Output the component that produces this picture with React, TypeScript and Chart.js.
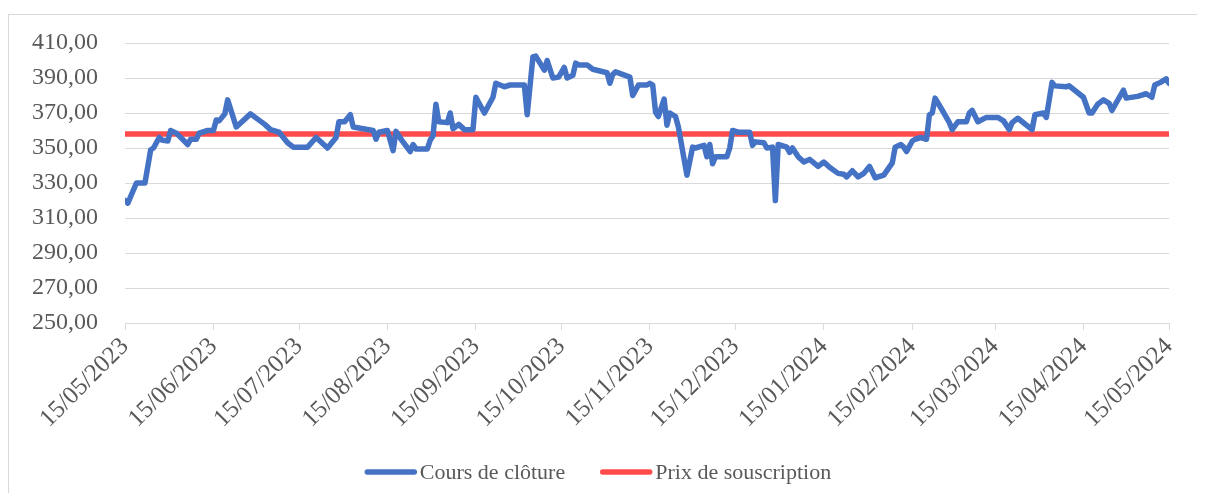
import React, { useEffect, useRef } from "react";
import { Chart, registerables } from "chart.js";

Chart.register(...registerables);

// Day offsets counted from 15/05/2023 (trading days)
const dayOffsets = [
  0, 1, 4, 7, 9, 10, 12, 13, 15, 16, 18, 22, 23, 25, 26, 29, 31, 32, 33, 35,
  36, 39, 44, 49, 51, 54, 57, 59, 64, 67, 69, 71, 74, 75, 77, 79, 80, 87, 88, 89,
  92, 94, 95, 97, 100, 101, 102, 106, 107, 108, 109, 110, 113, 114, 115, 117, 119, 122, 123, 126,
  129, 130, 133, 135, 140, 141, 143, 144, 147, 148, 150, 152, 154, 155, 157, 158, 159, 162, 164, 169,
  170, 171, 172, 177, 178, 180, 183, 184, 185, 186, 187, 189, 190, 191, 193, 194, 197, 199, 200, 203,
  204, 205, 206, 207, 211, 212, 213, 215, 219, 220, 221, 224, 225, 227, 228, 229, 232, 233, 234, 236,
  238, 240, 243, 245, 247, 250, 252, 253, 255, 257, 259, 261, 263, 266, 269, 270, 272, 273, 274, 276,
  277, 279, 281, 282, 283, 284, 286, 289, 290, 292, 295, 296, 297, 299, 302, 306, 308, 310, 311, 313,
  318, 319, 322, 323, 325, 326, 330, 331, 336, 338, 339, 341, 343, 345, 346, 350, 351, 355, 358, 360,
  361, 363, 365, 366,
];

const closingPrices = [
  320, 318.5, 330, 330, 349, 350, 356, 354.5, 354, 360, 358.5, 352, 355, 355, 358.5, 360, 360, 366, 365.5, 369.5,
  377.5, 362, 369.5, 363.5, 360.5, 359, 353, 350.5, 350.5, 356, 353, 350, 356, 365, 365, 369, 362, 360, 355, 359,
  360, 348.5, 359.5, 354.5, 348, 352, 349.5, 349.5, 354.5, 357, 375, 365, 364.5, 370, 361, 363.5, 360.5, 360.5, 379, 370,
  379, 387, 385, 386, 386, 369, 402, 402.5, 394.5, 400, 390, 390.5, 396, 390, 391.5, 398.5, 397.5, 397.5, 395, 393,
  387, 392, 393.5, 390.5, 380, 386, 386, 387, 386, 370.5, 368, 378, 363, 370, 368, 362, 334.5, 350.5, 350, 351.5,
  345, 352, 341, 345, 345, 350, 360, 359, 359, 351.5, 353.5, 353, 350, 350.5, 320, 352, 350.5, 347.5, 350, 345,
  342, 343.5, 339.5, 342, 339, 335.5, 335, 333.5, 337, 333.5, 335.5, 339.5, 333, 334.5, 341.5, 350.5, 352, 350.5, 348, 354,
  355, 356, 355, 369, 370, 378.5, 373, 364.5, 360.5, 365, 365, 370, 371.5, 365, 367.5, 367.5, 365.5, 360.5, 364.5, 367,
  360.5, 369, 370, 367.5, 387.5, 385.5, 385, 385.5, 379, 370, 370, 375, 377.5, 375.5, 371.5, 383, 378.5, 379.5, 381, 379,
  386, 387.5, 389.5, 387,
];

const subscriptionPrice = 358;

const tickDays = [0, 31, 61, 92, 123, 153, 184, 214, 245, 276, 305, 336, 366];
const tickLabels = [
  "15/05/2023", "15/06/2023", "15/07/2023", "15/08/2023", "15/09/2023", "15/10/2023",
  "15/11/2023", "15/12/2023", "15/01/2024", "15/02/2024", "15/03/2024", "15/04/2024", "15/05/2024",
];

const seriesLabels = ["Cours de clôture", "Prix de souscription"];
const seriesColors = ["#4472C4", "#FF4B4B"];

const yMin = 250;
const yMax = 410;
const yStep = 20;

const FONT = "'Liberation Serif', 'Times New Roman', serif";
const TEXT = "#595959";
const GRID = "#D9D9D9";

export default function App() {
  const ref = useRef<HTMLCanvasElement>(null);

  useEffect(() => {
    document.body.style.overflow = "hidden";
    const legendPlugin = {
      id: "lineLegend",
      afterDraw(chart: any) {
        const ctx = chart.ctx as CanvasRenderingContext2D;
        ctx.save();
        ctx.font = `22px ${FONT}`;
        const items = chart.data.datasets.map((ds: any) => ({ label: ds.label, color: ds.borderColor }));
        const sw = 52, gap = 3, spacing = 35;
        const widths = items.map((it: any) => sw + gap + ctx.measureText(it.label).width);
        const total = widths.reduce((a: number, b: number) => a + b, 0) + spacing * (items.length - 1);
        let x = chart.width / 2 - 9 - total / 2;
        const y = 457;
        items.forEach((it: any, i: number) => {
          ctx.strokeStyle = it.color;
          ctx.lineWidth = 5.5;
          ctx.lineCap = "round";
          ctx.beginPath();
          ctx.moveTo(x + 2.5, y);
          ctx.lineTo(x + sw - 2.5, y);
          ctx.stroke();
          ctx.fillStyle = TEXT;
          ctx.textBaseline = "middle";
          ctx.textAlign = "left";
          ctx.fillText(it.label, x + sw + gap, y + 1);
          x += widths[i] + spacing;
        });
        ctx.restore();
      },
    };

    const chart = new Chart(ref.current as HTMLCanvasElement, {
      type: "line",
      data: {
        datasets: [
          {
            label: seriesLabels[0],
            data: dayOffsets.map((d, i) => ({ x: d, y: closingPrices[i] })),
            borderColor: seriesColors[0],
            backgroundColor: seriesColors[0],
            borderWidth: 5.5,
            pointRadius: 0,
            tension: 0,
            borderCapStyle: "round",
            borderJoinStyle: "round",
            fill: false,
          },
          {
            label: seriesLabels[1],
            data: [
              { x: tickDays[0], y: subscriptionPrice },
              { x: tickDays[tickDays.length - 1], y: subscriptionPrice },
            ],
            borderColor: seriesColors[1],
            backgroundColor: seriesColors[1],
            borderWidth: 5.5,
            pointRadius: 0,
            borderCapStyle: "round",
            fill: false,
          },
        ],
      },
      options: {
        animation: false,
        responsive: false,
        maintainAspectRatio: false,
        layout: { padding: { top: 28, right: 36, left: 0, bottom: 0 } },
        plugins: { legend: { display: false }, tooltip: { enabled: false } },
        scales: {
          x: {
            type: "linear",
            min: tickDays[0],
            max: tickDays[tickDays.length - 1],
            afterBuildTicks: (s: any) => {
              s.ticks = tickDays.map((v) => ({ value: v }));
            },
            afterFit: (s: any) => {
              s.height = 169;
            },
            ticks: {
              autoSkip: false,
              minRotation: 45,
              maxRotation: 45,
              color: TEXT,
              font: { family: FONT, size: 25 },
              padding: 2,
              callback: (_v: any, i: number) => tickLabels[i],
            },
            grid: { drawOnChartArea: false, drawTicks: true, tickLength: 7, color: GRID },
            border: { display: true, color: GRID },
          },
          y: {
            min: yMin,
            max: yMax,
            afterFit: (s: any) => {
              s.width = 116;
              s.paddingTop = 0;
              s.paddingBottom = 0;
            },
            ticks: {
              stepSize: yStep,
              padding: 27,
              color: TEXT,
              font: { family: FONT, size: 24 },
              callback: (v: any) => Number(v).toFixed(2).replace(".", ","),
            },
            grid: { color: GRID, drawTicks: false },
            border: { display: false },
          },
        },
      },
      plugins: [legendPlugin],
    } as any);
    return () => chart.destroy();
  }, []);

  return (
    <div
      style={{
        marginTop: 6,
        width: 1196,
        height: 478,
        borderTop: `1px solid ${GRID}`,
        borderLeft: `1px solid ${GRID}`,
      }}
    >
      <canvas ref={ref} width={1196} height={477} style={{ display: "block" }} />
    </div>
  );
}
